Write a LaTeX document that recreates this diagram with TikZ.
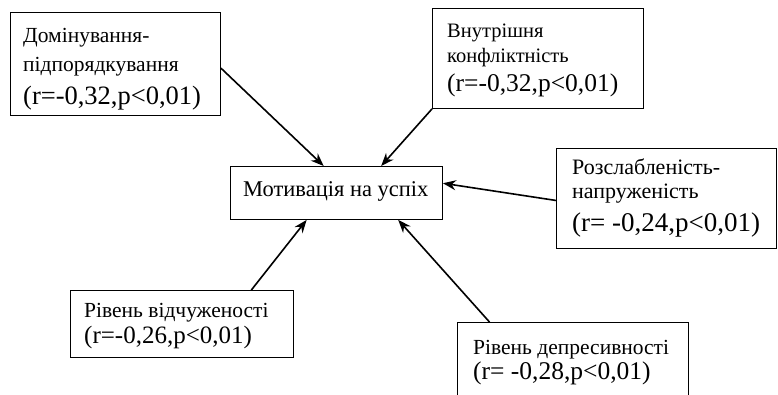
\documentclass[tikz,border=0pt]{standalone}
\usepackage{fontspec}
\setmainfont{Liberation Serif}
\usetikzlibrary{calc,arrows.meta}
\newcommand{\fs}[1]{\fontsize{#1}{#1}\selectfont}
\begin{document}
\begin{tikzpicture}[x=1pt,y=-1pt,
  box/.style={draw,line width=0.9pt,inner sep=0pt,anchor=north west},
  txt/.style={anchor=base west,inner sep=0pt},
  arr/.style={line width=1.6pt,-{Stealth[length=13pt,width=10pt]}}]
\useasboundingbox (0,0) rectangle (778,395);
% boxes
\node[box,minimum width=210pt,minimum height=103pt] (b1) at (10,12) {};
\node[box,minimum width=211pt,minimum height=100pt] (b2) at (432,8) {};
\node[box,minimum width=220pt,minimum height=100pt] (b3) at (556,148) {};
\node[box,minimum width=223pt,minimum height=67pt] (b4) at (70,290) {};
\node[box,minimum width=231pt,minimum height=76pt] (b5) at (457,322) {};
\node[box,minimum width=212pt,minimum height=53pt] (m) at (230,166) {};
% texts
\node[txt,font=\fs{21.5}] (t1a) at (23,43) {Домінування-};
\node[txt,font=\fs{21.5}] (t1b) at (23,72) {підпорядкування};
\node[txt,font=\fs{26.5}] (t1c) at (23,105) {(r=-0,32,p<0,01)};
\node[txt,font=\fs{20.5}] (t2a) at (447,38) {Внутрішня};
\node[txt,font=\fs{20.5}] (t2b) at (447,63) {конфліктність};
\node[txt,font=\fs{25.5}] (t2c) at (447,92) {(r=-0,32,p<0,01)};
\node[txt,font=\fs{22}] (t3a) at (572,175) {Розслабленість-};
\node[txt,font=\fs{22}] (t3b) at (572,199) {напруженість};
\node[txt,font=\fs{27}] (t3c) at (572,231) {(r= -0,24,p<0,01)};
\node[txt,font=\fs{21.5}] (t4a) at (84,317) {Рівень відчуженості};
\node[txt,font=\fs{25}] (t4c) at (84,343) {(r=-0,26,p<0,01)};
\node[txt,font=\fs{21.5}] (t5a) at (473,354) {Рівень депресивності};
\node[txt,font=\fs{25.5}] (t5c) at (473,379) {(r= -0,28,p<0,01)};
\node[txt,font=\fs{22.5}] (tm) at (243,197) {Мотивація на успіх};
% connectors
\draw[arr] ($(b1.north east)!0.54!(b1.south east)$) -- ($(m.north west)!0.44!(m.north east)$);
\draw[arr] (b2.south west) -- ($(m.north west)!0.71!(m.north east)$);
\draw[arr] ($(b3.north west)!0.52!(b3.south west)$) -- ($(m.north east)!0.32!(m.south east)$);
\draw[arr] ($(b4.north west)!0.81!(b4.north east)$) -- ($(m.south west)!0.36!(m.south east)$);
\draw[arr] ($(b5.north west)!0.14!(b5.north east)$) -- ($(m.south west)!0.79!(m.south east)$);
\end{tikzpicture}
\end{document}
